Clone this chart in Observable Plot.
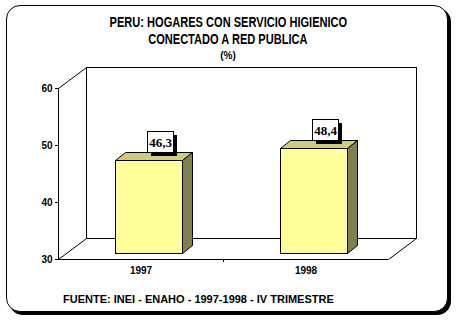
<!DOCTYPE html>
<html><head><meta charset="utf-8">
<script src="https://cdn.jsdelivr.net/npm/d3@7"></script>
<script src="https://cdn.jsdelivr.net/npm/@observablehq/plot@0.6"></script>
<style>
body{margin:0;background:#fff;}
#wrap{position:relative;width:456px;height:323px;overflow:hidden;font-family:"Liberation Sans",Arial,sans-serif;font-weight:bold;color:#000;}
#box{position:absolute;left:6px;top:5px;width:440px;height:305px;border:1px solid #000;border-radius:14px;box-shadow:3px 3px 0 #000;background:#fff;}
.t{position:absolute;left:0;width:456px;text-align:center;white-space:nowrap;}
.t span{display:inline-block;transform-origin:center;}
#t1 span,#t2 span{transform:scaleX(0.79);}
#t1{top:15px;font-size:14px;line-height:14px;}
#t2{top:32px;font-size:14px;line-height:14px;}
#t3{top:49px;font-size:10px;line-height:14px;}
#src{position:absolute;left:63px;top:292px;font-size:11px;line-height:14px;white-space:nowrap;}
#chart{position:absolute;left:0;top:0;}
</style></head>
<body>
<div id="wrap">
  <div id="box"></div>
  <div id="chart"></div>
  <div class="t" id="t1"><span></span></div>
  <div class="t" id="t2"><span></span></div>
  <div class="t" id="t3"><span></span></div>
  <div id="src"></div>
</div>
<script>
const categories = ["1997", "1998"];
const values = [46.3, 48.4];
const valueLabels = ["46,3", "48,4"];
const yTicks = [30, 40, 50, 60];
const titleLines = ["PERU: HOGARES CON SERVICIO HIGIENICO", "CONECTADO A RED PUBLICA", "(%)"];
const sourceText = "FUENTE: INEI - ENAHO - 1997-1998 - IV TRIMESTRE";

// geometry / style constants
const WALL_DEPTH = [28, -21];
const BAR_OFF = [8, -6];
const BAR_DEPTH = [10, -8];
const BAR_W = 0.406;
const FRONT = "#FFFF99", TOP = "#CCCC7A", SIDE = "#80804D";

document.querySelector("#t1 span").textContent = titleLines[0];
document.querySelector("#t2 span").textContent = titleLines[1];
document.querySelector("#t3 span").textContent = titleLines[2];
document.getElementById("src").textContent = sourceText;

const data = categories.map((c, i) => ({c, i, v: values[i], label: valueLabels[i], x1: i + 0.5 - BAR_W / 2, x2: i + 0.5 + BAR_W / 2}));
const n = categories.length;

function walls(index, scales) {
  const x = scales.x, y = scales.y;
  const g = d3.create("svg:g").attr("fill", "none").attr("stroke", "#000").attr("transform", "translate(0.5,0.5)");
  const xa = Math.round(x(0)), xb = Math.round(x(n)), ya = Math.round(y(30)), yb = Math.round(y(60));
  const [dx, dy] = WALL_DEPTH;
  g.append("rect").attr("x", xa + dx).attr("y", yb + dy).attr("width", xb - xa).attr("height", ya - yb).attr("shape-rendering", "crispEdges");
  g.append("path").attr("d", `M${xa},${ya}l${dx},${dy}M${xa},${yb}l${dx},${dy}M${xb},${ya}l${dx},${dy}`);
  return g.node();
}

function barGeom(d, x, y) {
  const xl = Math.round(x(d.x1)) + BAR_OFF[0], xr = Math.round(x(d.x2)) + BAR_OFF[0];
  const yt = Math.round(y(d.v)) + BAR_OFF[1], yb = Math.round(y(30)) + BAR_OFF[1];
  return {xl, xr, yt, yb};
}

function bars(index, scales) {
  const x = scales.x, y = scales.y;
  const g = d3.create("svg:g").attr("stroke", "#000").attr("transform", "translate(0.5,0.5)");
  const [ddx, ddy] = BAR_DEPTH;
  for (const d of data) {
    const {xl, xr, yt, yb} = barGeom(d, x, y);
    g.append("rect").attr("fill", FRONT).attr("x", xl).attr("y", yt).attr("width", xr - xl).attr("height", yb - yt).attr("shape-rendering", "crispEdges");
    g.append("path").attr("fill", TOP).attr("d", `M${xl},${yt}L${xr},${yt}l${ddx},${ddy}L${xl + ddx},${yt + ddy}Z`);
    g.append("path").attr("fill", SIDE).attr("d", `M${xr},${yt}l${ddx},${ddy}L${xr + ddx},${yb + ddy}L${xr},${yb}Z`);
  }
  return g.node();
}

function labels(index, scales) {
  const x = scales.x, y = scales.y;
  const g = d3.create("svg:g").attr("transform", "translate(0.5,0.5)");
  const [ddx, ddy] = BAR_DEPTH;
  const w = 26, h = 21;
  for (const d of data) {
    const {xl, xr, yt} = barGeom(d, x, y);
    const cx = Math.round((xl + xr) / 2 + ddx + 1);
    const bottom = yt + ddy;
    const left = Math.round(cx - w / 2), top = bottom - h;
    g.append("rect").attr("x", left + 3).attr("y", top + 3).attr("width", w).attr("height", h).attr("fill", "#000").attr("shape-rendering", "crispEdges");
    g.append("rect").attr("x", left).attr("y", top).attr("width", w).attr("height", h).attr("fill", "#fff").attr("stroke", "#000").attr("shape-rendering", "crispEdges");
    g.append("text").attr("x", left + w / 2).attr("y", top + h / 2).attr("dy", "0.36em").attr("text-anchor", "middle")
      .attr("font-family", "'Liberation Serif', 'Times New Roman', serif").attr("font-weight", "bold").attr("font-size", 13).text(d.label);
  }
  return g.node();
}

const plot = Plot.plot({
  width: 456, height: 323,
  marginLeft: 58, marginRight: 68, marginTop: 88, marginBottom: 64,
  style: {background: "none", fontFamily: "'Liberation Sans', Arial, sans-serif", fontSize: "10px", fontWeight: "bold", color: "#000", overflow: "visible"},
  x: {domain: [0, n], axis: null},
  y: {domain: [30, 60], axis: null},
  marks: [
    walls,
    Plot.ruleY([30], {x1: 0, x2: n, stroke: "#000", strokeOpacity: 1}),
    bars,
    Plot.ruleX([0], {y1: 30, y2: 60, stroke: "#000", strokeOpacity: 1}),
    Plot.axisY({ticks: yTicks, tickSize: 3, tickPadding: 3, fontSize: 10, fontWeight: "bold", strokeOpacity: 1}),
    Plot.axisX({ticks: d3.range(1, n), tickSize: 3, tickFormat: () => "", strokeOpacity: 1}),
    Plot.text(data, {x: d => d.i + 0.5, y: () => 30, text: "c", dy: 11, fontSize: 10, fontWeight: "bold", fill: "#000"}),
    labels
  ]
});
document.getElementById("chart").appendChild(plot);
</script>
</body></html>
